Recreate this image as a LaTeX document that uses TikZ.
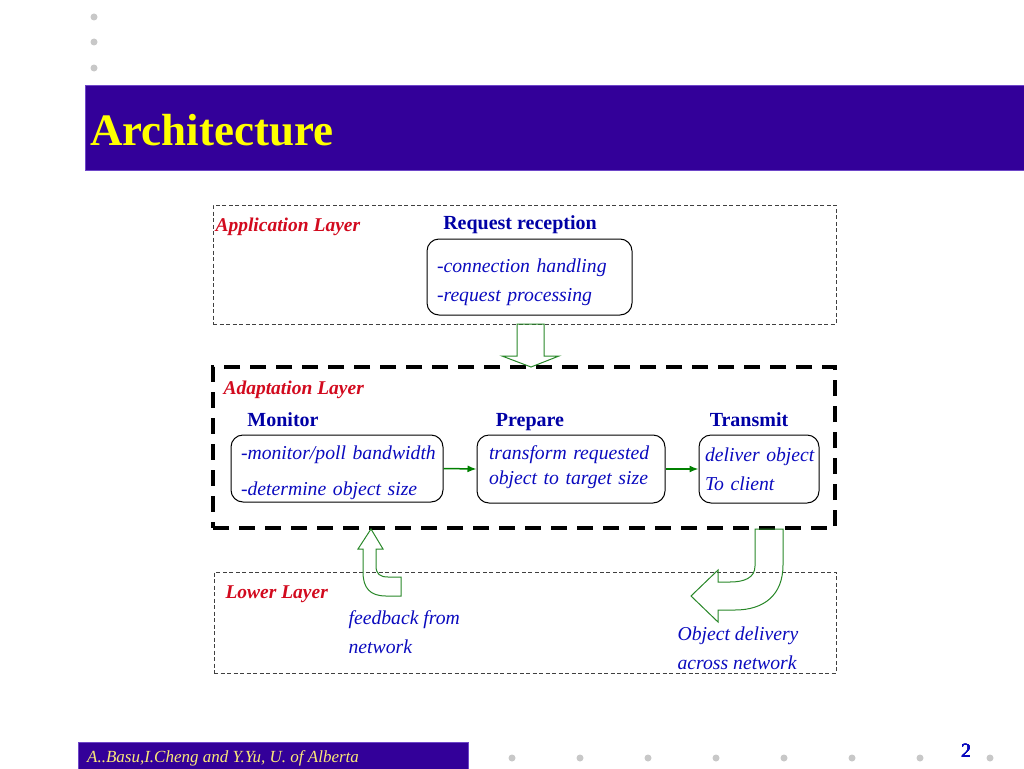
\documentclass[tikz,border=0pt]{standalone}
\usepackage{fontspec}
\setmainfont{Liberation Serif}
\usetikzlibrary{arrows.meta,positioning,calc}
\definecolor{barblue}{RGB}{51,0,153}
\definecolor{barline}{RGB}{110,70,200}
\definecolor{titleyellow}{RGB}{255,255,0}
\definecolor{footyellow}{RGB}{250,232,120}
\definecolor{textblue}{RGB}{10,10,190}
\definecolor{headblue}{RGB}{0,0,165}
\definecolor{layerred}{RGB}{210,10,30}
\definecolor{flowgreen}{RGB}{0,128,0}
\definecolor{hollowgreen}{RGB}{40,135,40}
\definecolor{dotgray}{RGB}{200,200,200}
\newcommand \mygraydot[2]
{
\fill[dotgray] (#1,#2) circle (3.5pt);
}
\tikzset{
  layerbox/.style={draw=black!75, line width=1pt, dash pattern=on 4pt off 2.5pt, inner sep=0pt},
  adaptbox/.style={draw=black, line width=3.5pt, dash pattern=on 16pt off 10pt, inner sep=0pt},
  layerlabel/.style={anchor=west, text=layerred, font=\fontsize{19.5}{23}\selectfont\bfseries\itshape},
  headlabel/.style={anchor=base, text=headblue, font=\fontsize{20}{24}\selectfont\bfseries},
  procbox/.style={draw, rounded corners=12pt, line width=1pt, inner ysep=0pt, align=left, text=textblue},
  note/.style={anchor=west, align=left, text=textblue, font=\fontsize{19.7}{29}\selectfont\itshape},
  flow/.style={-{Latex[length=9pt,width=7pt]}, flowgreen, line width=1.5pt},
  hollow/.style={draw=hollowgreen, line width=1pt, line join=miter}
}
\begin{document}
\begin{tikzpicture}[x=1pt, y=-1pt]
\useasboundingbox (0,0) rectangle (1024,768);
% slide frame
\mygraydot{94}{17}
\mygraydot{94}{42}
\mygraydot{94}{68}
\fill[barblue, draw=barline, line width=1pt] (85,85) rectangle (1025,170);
\node[anchor=base west, text=titleyellow, font=\fontsize{45}{50}\selectfont\bfseries, inner sep=0pt] (title) at (90,145) {Architecture};
\fill[barblue, draw=barline, line width=1pt] (78,742) rectangle (468,769);
\node[anchor=west, text=footyellow, font=\fontsize{17}{20}\selectfont\itshape, inner sep=0pt] (authors) at (87,758) {A..Basu,I.Cheng and Y.Yu, U. of Alberta};
\foreach \x in {512,580,648,716,784,852,920,990}
  \mygraydot{\x}{758}
\node[text=textblue, font=\fontsize{20}{24}\selectfont] (pageno) at (966,751) {2};
% layers
\node[layerbox, minimum width=623pt, minimum height=119pt] (applayer) at (524.5,264.5) {};
\node[adaptbox, minimum width=622pt, minimum height=161pt] (adaptlayer) at (524,447.5) {};
\node[layerbox, minimum width=622pt, minimum height=101pt] (lowlayer) at (525,622.5) {};
\node[layerlabel] (applabel) at (212,227) {Application Layer};
\node[layerlabel] (adaptlabel) at (220,390) {Adaptation Layer};
\node[layerlabel] (lowlabel) at (222,594) {Lower Layer};
% application layer
\node[headlabel] (reqlabel) at (520,229) {Request reception};
\node[procbox, minimum height=76pt, inner xsep=10pt, text width=185pt, text height=25pt, font=\fontsize{19.7}{29}\selectfont\itshape] (req) at (529.5,277) {-connection handling\\-request processing};
% adaptation layer
\node[headlabel] (monlabel) at (283,426) {Monitor};
\node[headlabel] (preplabel) at (530,426) {Prepare};
\node[headlabel] (translabel) at (749,426) {Transmit};
\node[procbox, minimum height=67pt, inner xsep=10pt, text width=192pt, text height=23pt, font=\fontsize{19.7}{36}\selectfont\itshape] (mon) at (337,468.5) {\mbox{-monitor/poll bandwidth}\\\mbox{-determine object size}};
\node[procbox, minimum height=68pt, inner xsep=12pt, text width=164pt, text height=11pt, font=\fontsize{19.7}{25}\selectfont\itshape] (prep) at (571,469) {\mbox{transform requested}\\\mbox{object to target size}};
\node[procbox, minimum height=68pt, inner xsep=6pt, text width=108pt, font=\fontsize{19.7}{29}\selectfont\itshape] (trans) at (759,469) {\mbox{deliver object}\\\mbox{To client}};
\draw[flow] (mon.east) -- (prep.west);
\draw[flow] (prep.east) -- (trans.west);
% lower layer
\node[note] (feedback) at (345,632) {feedback from\\network};
\node[note] (delivery) at (674,648) {Object delivery\\across network};
% hollow arrows
\draw[hollow] (517,324) -- (517,356) -- (502,356) -- (531,367) -- (559,356) -- (544,356) -- (544,324) -- cycle;
\draw[hollow] (371,529) -- (383,549) -- (376,549) -- (376,566)
  .. controls (376,574) and (380,577) .. (388,577) -- (401,577) -- (401,596) -- (386,596)
  .. controls (370,596) and (363,588) .. (363,572) -- (363,549) -- (358,549) -- cycle;
\draw[hollow] (755,529) -- (755,566)
  .. controls (755,578) and (744,582) .. (730,582) -- (718,582) -- (718,570) -- (691,596)
  -- (718,622) -- (718,610) -- (735,610)
  .. controls (764,610) and (783,595) .. (783,565) -- (783,529) -- cycle;
\end{tikzpicture}
\end{document}
